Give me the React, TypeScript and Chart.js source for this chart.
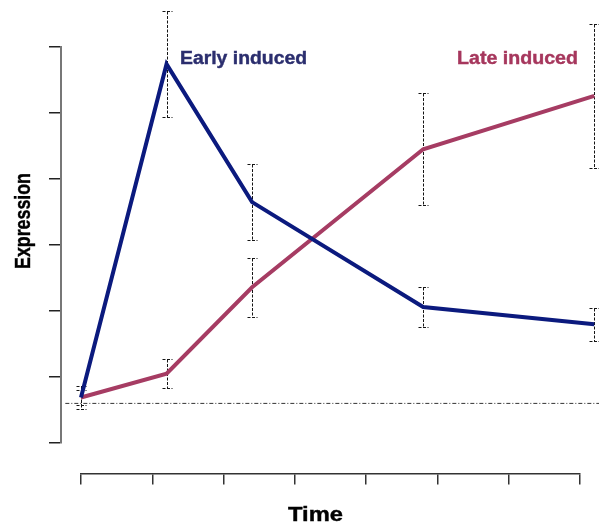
import React, { useEffect, useRef } from "react";
import { Chart, registerables } from "chart.js";

Chart.register(...registerables);

// ---- data ----
const times = [0, 6, 12, 24, 36];
const earlyValues = [0.69, 5.74, 3.65, 2.06, 1.8];
const earlyErrors = [0.18, 0.8, 0.57, 0.31, 0.25];
const lateValues = [0.69, 1.05, 2.36, 4.45, 5.26];
const lateErrors = [0.12, 0.22, 0.45, 0.85, 1.09];
const baselineValue = 0.6;
const baselineRange = [-1.1, 36.4];
const xTicks = [0, 5, 10, 15, 20, 25, 30, 35];
const yTicks = [0, 1, 2, 3, 4, 5, 6];
const seriesNames = ["Early induced", "Late induced"];
const xTitle = "Time";
const yTitle = "Expression";

const EARLY_COLOR = "#0b1a7e";
const LATE_COLOR = "#a63c63";
const EARLY_TEXT = "#2b2e6e";
const LATE_TEXT = "#a6375d";

function drawLabel(
  ctx: CanvasRenderingContext2D,
  text: string,
  x: number,
  y: number,
  size: number,
  width: number,
  color: string,
  rotate = false
) {
  ctx.save();
  ctx.font = `bold ${size}px "Liberation Sans", Arial, sans-serif`;
  const w = ctx.measureText(text).width;
  ctx.translate(x, y);
  if (rotate) ctx.rotate(-Math.PI / 2);
  ctx.scale(width / w, 1);
  ctx.fillStyle = color;
  ctx.strokeStyle = color;
  ctx.lineWidth = 0.4;
  ctx.textBaseline = "alphabetic";
  ctx.textAlign = "left";
  ctx.fillText(text, 0, 0);
  ctx.strokeText(text, 0, 0);
  ctx.restore();
}

const errorBarPlugin = {
  id: "errorBars",
  beforeDatasetsDraw(chart: any) {
    const ctx = chart.ctx as CanvasRenderingContext2D;
    const xs = chart.scales.x;
    const ys = chart.scales.y;
    const series: [number[], number[]][] = [
      [earlyValues, earlyErrors],
      [lateValues, lateErrors],
    ];
    ctx.save();
    ctx.strokeStyle = "#151515";
    ctx.lineWidth = 1;
    ctx.setLineDash([3, 1.5]);
    series.forEach(([vals, errs]) => {
      vals.forEach((v, i) => {
        const px = Math.round(xs.getPixelForValue(times[i])) + 0.5;
        const top = Math.round(ys.getPixelForValue(v + errs[i])) + 0.5;
        const bot = Math.round(ys.getPixelForValue(v - errs[i])) + 0.5;
        ctx.beginPath();
        ctx.moveTo(px, top);
        ctx.lineTo(px, bot);
        ctx.moveTo(px - 5, top);
        ctx.lineTo(px + 5, top);
        ctx.moveTo(px - 5, bot);
        ctx.lineTo(px + 5, bot);
        ctx.stroke();
      });
    });
    ctx.restore();
  },
};

const textPlugin = {
  id: "texts",
  afterDraw(chart: any) {
    const ctx = chart.ctx as CanvasRenderingContext2D;
    drawLabel(ctx, seriesNames[0], 180, 64, 18, 127, EARLY_TEXT);
    drawLabel(ctx, seriesNames[1], 457, 64, 18, 121, LATE_TEXT);
    drawLabel(ctx, xTitle, 288, 521, 20.5, 55, "#000");
    drawLabel(ctx, yTitle, 30, 269, 22, 96, "#000", true);
  },
};

export default function App() {
  const ref = useRef<HTMLCanvasElement | null>(null);

  useEffect(() => {
    if (!ref.current) return;
    const chart = new Chart(ref.current, {
      type: "line",
      data: {
        datasets: [
          {
            label: seriesNames[0],
            data: times.map((t, i) => ({ x: t, y: earlyValues[i] })),
            borderColor: EARLY_COLOR,
            backgroundColor: EARLY_COLOR,
            borderWidth: 4,
            pointRadius: 0,
            tension: 0,
            clip: false as any,
          },
          {
            label: seriesNames[1],
            data: times.map((t, i) => ({ x: t, y: lateValues[i] })),
            borderColor: LATE_COLOR,
            backgroundColor: LATE_COLOR,
            borderWidth: 4,
            pointRadius: 0,
            tension: 0,
            clip: false as any,
          },
          {
            label: "Baseline",
            data: baselineRange.map((x) => ({ x, y: baselineValue })),
            borderColor: "#333",
            borderWidth: 1,
            borderDash: [4, 2, 1, 2],
            pointRadius: 0,
            clip: false as any,
            order: 5,
          },
        ],
      },
      options: {
        animation: false,
        responsive: false,
        maintainAspectRatio: false,
        devicePixelRatio: 1,
        layout: { padding: { left: 81, top: 47, right: 19, bottom: 82 } },
        plugins: {
          legend: { display: false },
          tooltip: { enabled: false },
        },
        scales: {
          x: {
            type: "linear",
            position: { y: -0.4697 } as any,
            min: 0,
            max: 35,
            afterBuildTicks: (scale: any) => {
              scale.ticks = xTicks.map((v) => ({ value: v }));
            },
            ticks: { display: false },
            grid: {
              drawOnChartArea: false,
              drawTicks: true,
              tickLength: 10,
              color: "#333",
              lineWidth: 1.5,
            },
            border: { display: true, color: "#333", width: 1.5 },
          },
          y: {
            type: "linear",
            position: { x: -1.4028 } as any,
            min: 0,
            max: 6,
            afterBuildTicks: (scale: any) => {
              scale.ticks = yTicks.map((v) => ({ value: v }));
            },
            ticks: { display: false },
            grid: {
              drawOnChartArea: false,
              drawTicks: true,
              tickLength: 11,
              color: "#222",
              lineWidth: 1.5,
            },
            border: { display: true, color: "#777", width: 2 },
          },
        },
      },
      plugins: [errorBarPlugin, textPlugin],
    });
    return () => chart.destroy();
  }, []);

  return (
    <div style={{ position: "fixed", left: 0, top: 0, width: 599, height: 525, background: "#fff" }}>
      <canvas ref={ref} width={599} height={525} style={{ display: "block" }} />
    </div>
  );
}
